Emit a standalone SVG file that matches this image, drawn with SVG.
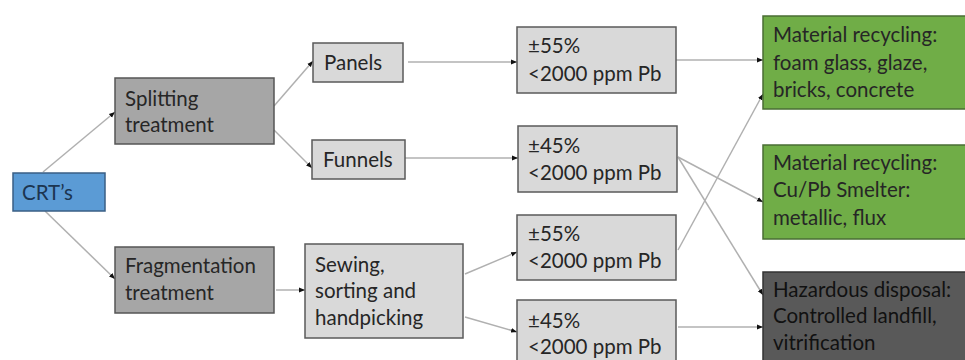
<svg xmlns="http://www.w3.org/2000/svg" width="965" height="360" viewBox="0 0 965 360">
<defs>
<marker id="ah" viewBox="0 0 10 10" refX="10" refY="5" markerWidth="6" markerHeight="6" orient="auto" markerUnits="userSpaceOnUse">
<path d="M0,1 L10,5 L0,9 z" fill="#111"/>
</marker>
<style>
text{font-family:Lato,"Open Sans","Liberation Sans",sans-serif;font-size:20.5px;fill:#262626}
.c line{stroke:#b0b0b0;stroke-width:1.5;marker-end:url(#ah)}
.mid{fill:#a6a6a6;stroke:#555;stroke-width:1.5}
.lt{fill:#d9d9d9;stroke:#5a5a5a;stroke-width:1.5}
.gr{fill:#70ad47;stroke:#4a6e35;stroke-width:1.5}
.dk{fill:#595959;stroke:#333;stroke-width:1.5}
.bl{fill:#5b9bd5;stroke:#3a5f85;stroke-width:1.5}
</style>
</defs>
<rect width="965" height="360" fill="#fff"/>
<g class="c">
<line x1="43" y1="172" x2="115" y2="112"/>
<line x1="45" y1="211" x2="115" y2="279"/>
<line x1="274" y1="106" x2="313" y2="61"/>
<line x1="274" y1="130" x2="312" y2="168"/>
<line x1="276" y1="290" x2="305" y2="290"/>
<line x1="408" y1="62" x2="517" y2="62"/>
<line x1="405" y1="158" x2="518" y2="158"/>
<line x1="465" y1="274" x2="517" y2="252"/>
<line x1="465" y1="317" x2="517" y2="332"/>
<line x1="676" y1="60" x2="763" y2="60"/>
<line x1="678" y1="250" x2="763" y2="94"/>
<line x1="678" y1="157" x2="763" y2="202"/>
<line x1="678" y1="157" x2="763" y2="295"/>
<line x1="678" y1="327" x2="763" y2="327"/>
</g>
<g id="crts"><rect class="bl" x="13" y="173" width="92" height="38"/><text x="22" y="200" style="fill:#1c3550">CRT’s</text></g>
<g id="splitting"><rect class="mid" x="115" y="78" width="159" height="66"/><text x="125" y="106">Splitting</text><text x="125" y="132">treatment</text></g>
<g id="fragmentation"><rect class="mid" x="115" y="247" width="159" height="66"/><text x="125" y="273">Fragmentation</text><text x="125" y="300">treatment</text></g>
<g id="panels"><rect class="lt" x="313" y="43" width="90" height="39"/><text x="324" y="70">Panels</text></g>
<g id="funnels"><rect class="lt" x="312" y="140" width="93" height="39"/><text x="323" y="167">Funnels</text></g>
<g id="sewing"><rect class="lt" x="305" y="244" width="158" height="94"/><text x="315" y="272">Sewing,</text><text x="315" y="298">sorting and</text><text x="315" y="325">handpicking</text></g>
<g id="p55a"><rect class="lt" x="517" y="27" width="159" height="66"/><text x="528" y="53">±55%</text><text x="528" y="81">&lt;2000 ppm Pb</text></g>
<g id="p45a"><rect class="lt" x="518" y="126" width="159" height="66"/><text x="528" y="153">±45%</text><text x="528" y="180">&lt;2000 ppm Pb</text></g>
<g id="p55b"><rect class="lt" x="517" y="215" width="159" height="65"/><text x="528" y="241">±55%</text><text x="528" y="268">&lt;2000 ppm Pb</text></g>
<g id="p45b"><rect class="lt" x="517" y="300" width="159" height="66"/><text x="528" y="328">±45%</text><text x="528" y="354">&lt;2000 ppm Pb</text></g>
<g id="recycling1"><rect class="gr" x="763" y="16" width="210" height="93"/><text x="773" y="42">Material recycling:</text><text x="773" y="70">foam glass, glaze,</text><text x="773" y="97">bricks, concrete</text></g>
<g id="recycling2"><rect class="gr" x="763" y="145" width="210" height="94"/><text x="773" y="170">Material recycling:</text><text x="773" y="197">Cu/Pb Smelter:</text><text x="773" y="225">metallic, flux</text></g>
<g id="hazardous"><rect class="dk" x="763" y="272" width="210" height="100"/><text x="773" y="297" style="fill:#111">Hazardous disposal:</text><text x="773" y="323" style="fill:#111">Controlled landfill,</text><text x="773" y="350" style="fill:#111">vitrification</text></g>
</svg>
